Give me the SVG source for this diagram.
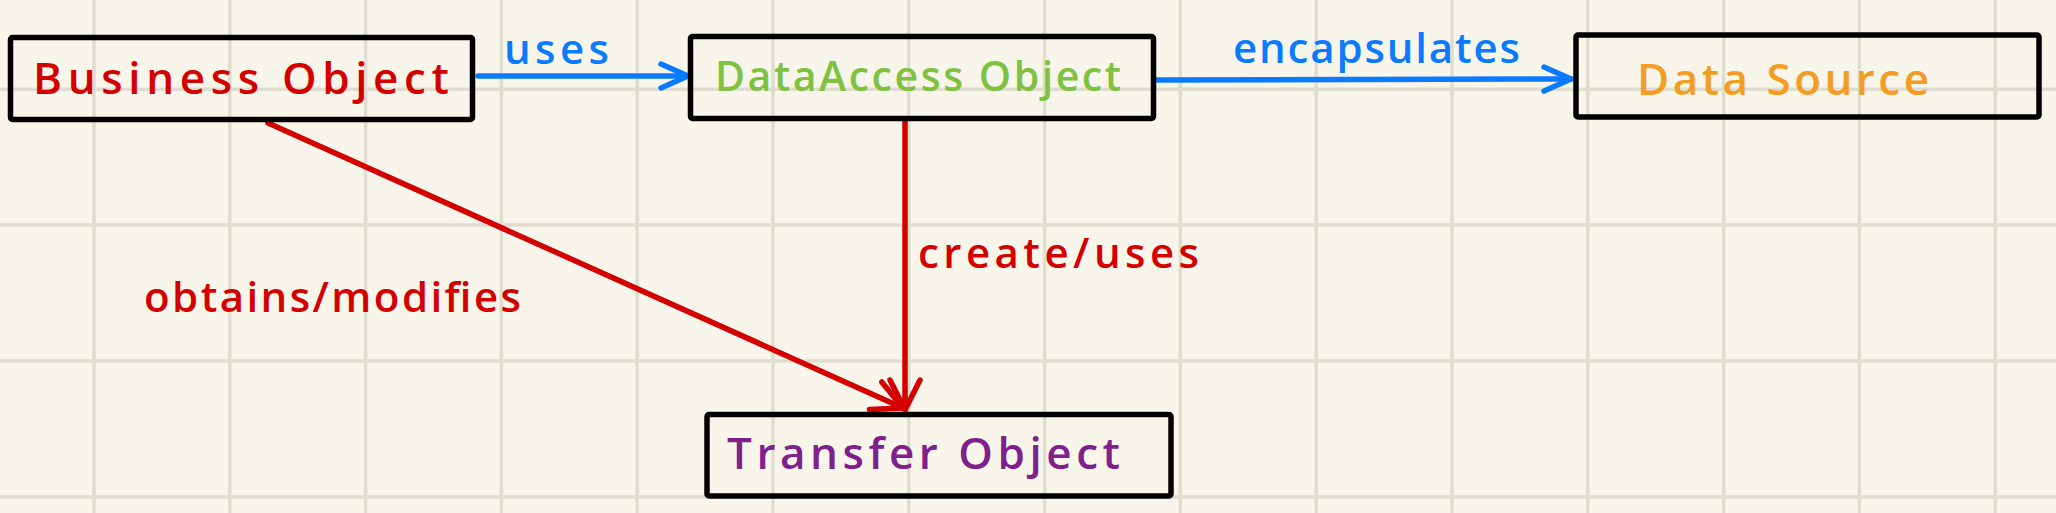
<svg xmlns="http://www.w3.org/2000/svg" width="2056" height="513" viewBox="0 0 2056 513">
  <style>
    .box { fill: none; stroke: #000; stroke-width: 5.5; stroke-linejoin: round; }
    .t { font-family: "Open Sans", "Liberation Sans", sans-serif; font-weight: 600; font-size: 44px; }
    .lbl { font-family: "Open Sans", "Liberation Sans", sans-serif; font-weight: 600; font-size: 42px; }
    .blue { stroke: #0a7bff; stroke-width: 5.5; fill: none; stroke-linecap: round; }
    .red { stroke: #d40000; stroke-width: 5.5; fill: none; stroke-linecap: round; }
    .grid { stroke: #e0ddd0; stroke-width: 3.5; fill: none; }
  </style>
  <defs>
    <marker id="headBlue" markerUnits="userSpaceOnUse" viewBox="-34 -16 40 32" refX="0" refY="0" markerWidth="40" markerHeight="32" orient="auto" overflow="visible">
      <path d="M -27 -12 L 0 0 L -27 12" fill="none" stroke="#0a7bff" stroke-width="5.5" stroke-linecap="round" stroke-linejoin="round"/>
    </marker>
    <marker id="headRed" markerUnits="userSpaceOnUse" viewBox="-34 -18 40 36" refX="0" refY="0" markerWidth="40" markerHeight="36" orient="auto" overflow="visible">
      <path d="M -30 -15 L 0 0 L -30 15" fill="none" stroke="#d40000" stroke-width="5.5" stroke-linecap="round" stroke-linejoin="round"/>
    </marker>
  </defs>
  <rect x="0" y="0" width="2056" height="513" fill="#f8f6ea"/>
  <path class="grid" d="M94 0V513 M229.8 0V513 M365.6 0V513 M501.4 0V513 M637.2 0V513 M773 0V513 M908.8 0V513 M1044.6 0V513 M1180.4 0V513 M1316.2 0V513 M1452 0V513 M1587.8 0V513 M1723.6 0V513 M1859.4 0V513 M1995.2 0V513 M0 89.3H2056 M0 225H2056 M0 361H2056 M0 497H2056"/>

  <g id="connectors">
    <g id="edge-uses">
      <path class="blue" d="M 478 76 L 688 76" marker-end="url(#headBlue)"/>
      <text class="lbl" x="504" y="64" textLength="105" lengthAdjust="spacing" fill="#0a7bff">uses</text>
    </g>
    <g id="edge-encapsulates">
      <path class="blue" d="M 1156 80 L 1571 79" marker-end="url(#headBlue)"/>
      <text class="lbl" x="1233" y="63" textLength="287" lengthAdjust="spacing" fill="#0a7bff">encapsulates</text>
    </g>
    <g id="edge-obtains">
      <path class="red" d="M 268 123 L 903 408" marker-end="url(#headRed)"/>
      <text class="lbl" x="144" y="312" textLength="377" lengthAdjust="spacing" fill="#d40000">obtains/modifies</text>
    </g>
    <g id="edge-create">
      <path class="red" d="M 905 122 L 905 410" marker-end="url(#headRed)"/>
      <text class="lbl" x="918" y="268" textLength="281" lengthAdjust="spacing" fill="#d40000">create/uses</text>
    </g>
  </g>

  <g id="node-business">
    <rect class="box" x="10.5" y="37.5" width="462" height="82" rx="2"/>
    <text class="t" x="33" y="94" textLength="416" lengthAdjust="spacing" fill="#d40000">Business Object</text>
  </g>
  <g id="node-dao">
    <rect class="box" x="690.5" y="36.5" width="463" height="82" rx="2"/>
    <text class="t" x="715" y="91" textLength="406" lengthAdjust="spacing" fill="#7fc241" style="font-size:41px">DataAccess Object</text>
  </g>
  <g id="node-datasource">
    <rect class="box" x="1576" y="35" width="463" height="82" rx="2"/>
    <text class="t" x="1637" y="95" textLength="292" lengthAdjust="spacing" fill="#f59c23">Data Source</text>
  </g>
  <g id="node-transfer">
    <rect class="box" x="707" y="414.5" width="464" height="81.5" rx="2"/>
    <text class="t" x="727" y="469" textLength="393" lengthAdjust="spacing" fill="#80208c">Transfer Object</text>
  </g>
</svg>
